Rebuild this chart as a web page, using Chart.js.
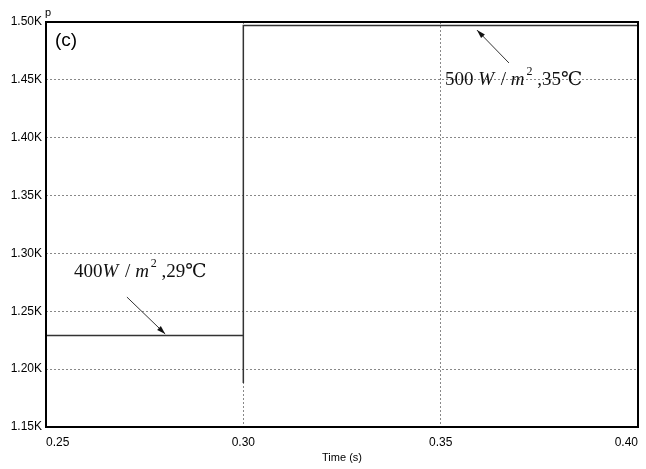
<!DOCTYPE html>
<html>
<head>
<meta charset="utf-8">
<script src="https://cdn.jsdelivr.net/npm/chart.js@4"></script>
<style>
  html, body { margin: 0; padding: 0; background: #fff; overflow: hidden; }
  #wrap { width: 646px; height: 469px; }
</style>
</head>
<body>
<div id="wrap"><canvas id="power-chart"></canvas></div>
<script>
// power step response (time in s, power in W)
var timeS  = [0.25, 0.30, 0.30, 0.30, 0.40];
var powerW = [1229, 1229, 1188, 1497, 1497];

var xTicks = [0.25, 0.30, 0.35, 0.40];
var yTicks = [1150, 1200, 1250, 1300, 1350, 1400, 1450, 1500];

// annotation labels: [text, italic?, superscript?]
var label500 = [['500 ', 0, 0], ['W', 1, 0], [' / ', 0, 0], ['m', 1, 0], ['2', 0, 1], [' ,35\u2103', 0, 0]];
var label400 = [['400', 0, 0], ['W', 1, 0], [' / ', 0, 0], ['m', 1, 0], ['2', 0, 1], [' ,29\u2103', 0, 0]];

var points = timeS.map(function (t, i) { return { x: t, y: powerW[i] }; });

function drawLabel(ctx, parts, x, y) {
  ctx.textBaseline = 'middle';
  ctx.textAlign = 'left';
  parts.forEach(function (p) {
    var size = p[2] ? 12 : 19;
    ctx.font = (p[1] ? 'italic ' : '') + size + 'px "Liberation Serif", "DejaVu Serif", serif';
    ctx.fillText(p[0], x, p[2] ? y - 8 : y);
    x += ctx.measureText(p[0]).width + (p[1] ? 2 : 0);
  });
}

function drawArrow(ctx, x1, y1, x2, y2) {
  var a = Math.atan2(y2 - y1, x2 - x1);
  ctx.beginPath();
  ctx.moveTo(x1, y1);
  ctx.lineTo(x2, y2);
  ctx.stroke();
  ctx.beginPath();
  ctx.moveTo(x2, y2);
  ctx.lineTo(x2 - 9 * Math.cos(a - 0.3), y2 - 9 * Math.sin(a - 0.3));
  ctx.lineTo(x2 - 9 * Math.cos(a + 0.3), y2 - 9 * Math.sin(a + 0.3));
  ctx.closePath();
  ctx.fill();
}

var extras = {
  id: 'extras',
  afterDraw: function (chart) {
    var ctx = chart.ctx, a = chart.chartArea;
    var xs = chart.scales.x, ys = chart.scales.y;
    ctx.save();
    ctx.strokeStyle = '#000';
    ctx.lineWidth = 2;
    ctx.strokeRect(a.left, a.top, a.right - a.left, a.bottom - a.top);

    ctx.fillStyle = '#000';
    ctx.font = '11px "Liberation Sans", Arial, sans-serif';
    ctx.textAlign = 'center';
    ctx.textBaseline = 'bottom';
    ctx.fillText('p', a.left + 2, a.top - 4);

    ctx.font = '19px "Liberation Sans", Arial, sans-serif';
    ctx.textAlign = 'left';
    ctx.textBaseline = 'middle';
    ctx.fillText('(c)', a.left + 9, a.top + 19);

    ctx.fillStyle = '#111';
    drawLabel(ctx, label500, xs.getPixelForValue(0.3511), ys.getPixelForValue(1450));
    drawLabel(ctx, label400, xs.getPixelForValue(0.2571), ys.getPixelForValue(1284));

    ctx.strokeStyle = '#333';
    ctx.fillStyle = '#111';
    ctx.lineWidth = 1;
    drawArrow(ctx, xs.getPixelForValue(0.3673), ys.getPixelForValue(1464.6),
                   xs.getPixelForValue(0.3592), ys.getPixelForValue(1493));
    drawArrow(ctx, xs.getPixelForValue(0.2705), ys.getPixelForValue(1262.3),
                   xs.getPixelForValue(0.2802), ys.getPixelForValue(1230.4));
    ctx.restore();
  }
};

var tickFont = { family: '"Liberation Sans", Arial, sans-serif', size: 12 };

new Chart(document.getElementById('power-chart'), {
  type: 'line',
  data: {
    datasets: [{
      data: points,
      borderColor: '#333',
      borderWidth: 1.5,
      pointRadius: 0,
      tension: 0,
      fill: false
    }]
  },
  options: {
    responsive: true,
    maintainAspectRatio: false,
    animation: false,
    layout: { padding: { top: 22, right: 8, left: 0, bottom: 0 } },
    plugins: { legend: { display: false }, tooltip: { enabled: false } },
    scales: {
      x: {
        type: 'linear',
        min: 0.25,
        max: 0.40,
        afterBuildTicks: function (s) { s.ticks = xTicks.map(function (v) { return { value: v }; }); },
        afterFit: function (s) { s.height = 42; s.paddingLeft = 0; s.paddingRight = 0; },
        ticks: {
          color: '#000',
          font: tickFont,
          padding: 8,
          align: 'inner',
          maxRotation: 0,
          callback: function (v) { return v.toFixed(2); }
        },
        grid: { color: '#888', borderDash: [2, 2], drawTicks: false, lineWidth: 1 },
        border: { display: false, dash: [2, 2] },
        title: { display: true, text: 'Time (s)', color: '#000', font: { family: tickFont.family, size: 11 }, padding: { top: 2 } }
      },
      y: {
        min: 1150,
        max: 1500,
        afterBuildTicks: function (s) { s.ticks = yTicks.map(function (v) { return { value: v }; }); },
        afterFit: function (s) { s.width = 46; s.paddingTop = 0; s.paddingBottom = 0; },
        ticks: {
          color: '#000',
          font: tickFont,
          padding: 4,
          callback: function (v) { return (v / 1000).toFixed(2) + 'K'; }
        },
        grid: { color: '#888', drawTicks: false, lineWidth: 1 },
        border: { display: false, dash: [2, 2] }
      }
    }
  },
  plugins: [extras]
});
</script>
</body>
</html>
